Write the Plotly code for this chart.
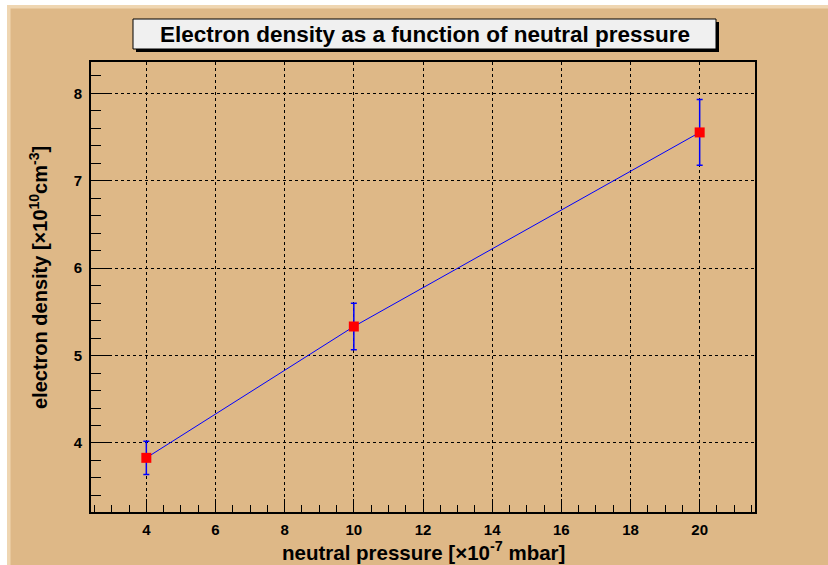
import plotly.graph_objects as go

# data
pressure = [4, 10, 20]
density = [3.83, 5.333, 7.554]
density_err = [0.19, 0.265, 0.377]

title_text = "Electron density as a function of neutral pressure"
x_title = "neutral pressure [×10<sup>-7</sup> mbar]"
y_title = "electron density [×10<sup>10</sup>cm<sup>-3</sup>]"

W, H = 828, 565
L, R, T, B = 91, 755, 62, 512
PW, PH = R - L, B - T

def px(x):
    return (x - L) / PW

def py(y):
    return (B - y) / PH

BG = "#deb887"
FONT = "Liberation Sans, Arial, Helvetica, sans-serif"

fig = go.Figure()
fig.add_trace(go.Scatter(
    x=pressure, y=density,
    mode="lines+markers",
    line=dict(color="#0000ff", width=1),
    marker=dict(symbol="square", size=10, color="#ff0000", line=dict(width=0)),
    error_y=dict(type="data", array=density_err, visible=True,
                 color="#0000ff", thickness=1.5, width=3),
    showlegend=False,
))

axis_common = dict(
    showline=True, linecolor="black", linewidth=2, mirror=True,
    showgrid=True, gridcolor="black", griddash="dot", gridwidth=1,
    zeroline=False, ticks="inside", tickcolor="black", tickwidth=1,
    tickfont=dict(family=FONT, size=15, color="black", weight="bold"),
)

fig.update_xaxes(
    range=[2.4, 21.6], tick0=0, dtick=2, ticklen=13,
    minor=dict(dtick=0.5, ticks="inside", ticklen=7, tickcolor="black", showgrid=False),
    ticklabelstandoff=3,
    **axis_common,
)
fig.update_yaxes(
    range=[3.21, 8.36], tick0=0, dtick=1, ticklen=20,
    minor=dict(dtick=0.2, ticks="inside", ticklen=10, tickcolor="black", showgrid=False),
    ticklabelstandoff=4,
    **axis_common,
)

shapes = []
# canvas edge strips (white outside + light bevel)
shapes.append(dict(type="rect", xref="paper", yref="paper",
                   x0=px(0), x1=px(7), y0=py(H), y1=py(0),
                   fillcolor="white", line=dict(width=0), layer="below"))
shapes.append(dict(type="rect", xref="paper", yref="paper",
                   x0=px(0), x1=px(W), y0=py(5), y1=py(0),
                   fillcolor="white", line=dict(width=0), layer="below"))
shapes.append(dict(type="rect", xref="paper", yref="paper",
                   x0=px(7), x1=px(10.5), y0=py(H), y1=py(5),
                   fillcolor="#efd6b2", line=dict(width=0), layer="below"))
shapes.append(dict(type="rect", xref="paper", yref="paper",
                   x0=px(7), x1=px(W), y0=py(8.5), y1=py(5),
                   fillcolor="#efd6b2", line=dict(width=0), layer="below"))
# title box shadow and box
shapes.append(dict(type="rect", xref="paper", yref="paper",
                   x0=px(136), x1=px(719), y0=py(52), y1=py(22),
                   fillcolor="black", line=dict(width=0)))
shapes.append(dict(type="rect", xref="paper", yref="paper",
                   x0=px(133), x1=px(716), y0=py(49), y1=py(19),
                   fillcolor="#f0f0f0", line=dict(color="black", width=1)))

annotations = [
    dict(text=title_text, xref="paper", yref="paper",
         x=px(424.5), y=py(35), xanchor="center", yanchor="middle",
         showarrow=False, font=dict(family=FONT, size=22.5, color="black", weight="bold")),
    dict(text=x_title, xref="paper", yref="paper",
         x=px(423), y=py(551), xanchor="center", yanchor="middle",
         showarrow=False, font=dict(family=FONT, size=20.5, color="black", weight="bold")),
    dict(text=y_title, xref="paper", yref="paper",
         x=px(38), y=py(278), xanchor="center", yanchor="middle", textangle=-90,
         showarrow=False, font=dict(family=FONT, size=20, color="black", weight="bold")),
]

fig.update_layout(
    width=W, height=H,
    margin=dict(l=L, r=W - R, t=T, b=H - B, pad=0),
    paper_bgcolor=BG, plot_bgcolor=BG,
    shapes=shapes, annotations=annotations,
    font=dict(family=FONT, color="black"),
)

fig.write_html("out.html")
